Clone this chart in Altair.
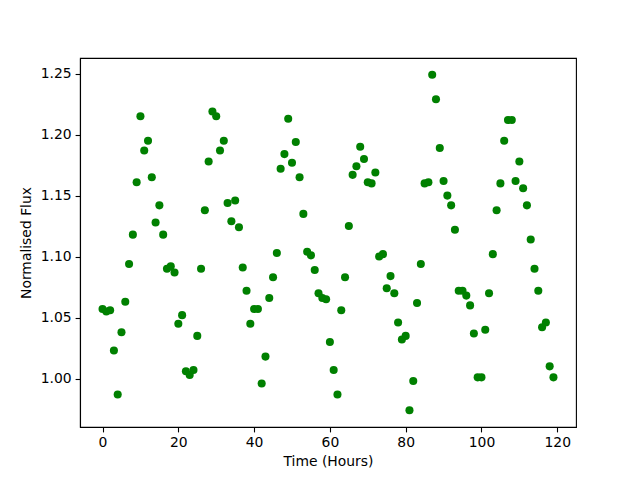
import altair as alt
import pandas as pd

hours = list(range(120))
flux = [
    1.057, 1.055, 1.056, 1.023, 0.987, 1.038, 1.063, 1.094, 1.118, 1.161,
    1.215, 1.187, 1.195, 1.165, 1.128, 1.142, 1.118, 1.090, 1.092, 1.087,
    1.045, 1.052, 1.006, 1.003, 1.007, 1.035, 1.090, 1.138, 1.178, 1.219,
    1.215, 1.187, 1.195, 1.144, 1.129, 1.146, 1.124, 1.091, 1.072, 1.045,
    1.057, 1.057, 0.996, 1.018, 1.066, 1.083, 1.103, 1.172, 1.184, 1.213,
    1.177, 1.194, 1.165, 1.135, 1.104, 1.101, 1.089, 1.070, 1.066, 1.065,
    1.030, 1.007, 0.987, 1.056, 1.083, 1.125, 1.167, 1.174, 1.190, 1.180,
    1.161, 1.160, 1.169, 1.100, 1.102, 1.074, 1.084, 1.070, 1.046, 1.032,
    1.035, 0.974, 0.998, 1.062, 1.094, 1.160, 1.161, 1.249, 1.229, 1.189,
    1.162, 1.150, 1.142, 1.122, 1.072, 1.072, 1.068, 1.060, 1.037, 1.001,
    1.001, 1.040, 1.070, 1.102, 1.138, 1.160, 1.195, 1.212, 1.212, 1.162,
    1.178, 1.156, 1.142, 1.114, 1.090, 1.072, 1.042, 1.046, 1.010, 1.001,
]
x_ticks = [0, 20, 40, 60, 80, 100, 120]
y_ticks = [1.00, 1.05, 1.10, 1.15, 1.20, 1.25]

df = pd.DataFrame({"t": hours, "f": flux})

font = "DejaVu Sans"
chart = (
    alt.Chart(df)
    .mark_circle(color="#008000", opacity=1, size=65)
    .encode(
        x=alt.X(
            "t:Q",
            title="Time (Hours)",
            scale=alt.Scale(domain=[-5.95, 124.95], nice=False, zero=False),
            axis=alt.Axis(values=x_ticks, format="d", titlePadding=5),
        ),
        y=alt.Y(
            "f:Q",
            title="Normalised Flux",
            scale=alt.Scale(domain=[0.9603, 1.2628], nice=False, zero=False),
            axis=alt.Axis(values=y_ticks, format=".2f", titlePadding=7),
        ),
    )
    .properties(
        width=496,
        height=369,
        autosize=alt.AutoSizeParams(type="none"),
        padding={"left": 72, "top": 50, "right": 56, "bottom": 45},
    )
    .configure(background="white")
    .configure_view(stroke="black", strokeWidth=1.1, fill="white")
    .configure_axis(
        grid=False,
        domainColor="black",
        domainWidth=1.1,
        tickColor="black",
        tickSize=4.9,
        tickWidth=1.1,
        labelPadding=4,
        labelFont=font,
        labelFontSize=13.9,
        labelColor="black",
        titleFont=font,
        titleFontSize=13.9,
        titleFontWeight="normal",
        titleColor="black",
    )
)

chart.save("out.html", embed_options={"renderer": "svg", "actions": False})
